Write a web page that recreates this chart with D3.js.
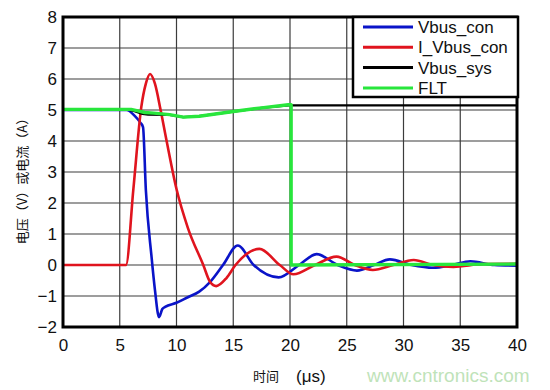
<!DOCTYPE html>
<html>
<head>
  <meta charset="UTF-8">
  <title>Vbus waveform</title>
  <style>
    body { margin: 0; background: #fff; }
    svg { display: block; font-family: Arial, "Liberation Sans", sans-serif; }
  </style>
</head>
<body>
  <svg id="chart" width="550" height="390"></svg>

  <script src="https://cdnjs.cloudflare.com/ajax/libs/d3/7.8.5/d3.min.js"></script>
  <script>

    // values (time in us)
    var xTicks = [0, 5, 10, 15, 20, 25, 30, 35, 40];
    var yTicks = [-2, -1, 0, 1, 2, 3, 4, 5, 6, 7, 8];

    var tVbusCon = [0, 5.6, 6.3, 6.8, 7.05, 7.3, 7.8, 8.1, 8.46, 8.75, 9.0, 10, 11, 12, 12.95, 14.1, 15.4, 16.8, 19.0, 20.8, 22.35, 24.2, 25.9, 27.4, 28.8, 30.7, 32.6, 34.3, 35.9, 38, 40];
    var vVbusCon = [5, 5, 4.82, 4.6, 4.45, 2.42, 0.27, -0.8, -1.68, -1.42, -1.35, -1.22, -1.04, -0.86, -0.55, 0, 0.63, 0, -0.4, 0, 0.35, 0, -0.18, 0, 0.18, 0, -0.09, 0, 0.12, 0, -0.02];

    var tIVbusCon = [0, 5.55, 6.2, 6.9, 7.3, 7.67, 8.1, 8.6, 9.13, 10, 11, 12.36, 12.95, 13.5, 14.4, 15.2, 17.3, 19.1, 20.3, 22.2, 24.1, 25.7, 27.3, 29.1, 30.9, 32.6, 34.4, 37, 40];
    var vIVbusCon = [0, 0, 2.45, 5.1, 5.85, 6.16, 5.85, 5.0, 4.0, 2.45, 1.2, 0, -0.54, -0.68, -0.42, 0, 0.52, 0, -0.3, 0, 0.27, 0, -0.16, 0, 0.16, 0, -0.06, 0.03, 0.04];

    var tVbusSys = [0, 5.8, 6.3, 7.0, 7.5, 9.4, 10.6, 12, 15, 17.5, 19.85, 20.1, 40];
    var vVbusSys = [5, 5, 4.96, 4.87, 4.85, 4.84, 4.77, 4.8, 4.95, 5.07, 5.15, 5.15, 5.15];

    var tFlt = [0, 6.0, 6.5, 7.2, 8, 9.4, 10.6, 12, 15, 17.5, 19.85, 20.1, 20.1, 40];
    var vFlt = [5.02, 5.02, 4.98, 4.92, 4.9, 4.85, 4.77, 4.8, 4.95, 5.07, 5.17, 5.17, 0, 0.03];

    var seriesNames = ["Vbus_con", "I_Vbus_con", "Vbus_sys", "FLT"];
    var seriesColors = ["#0a14c8", "#e0141e", "#000000", "#28e63c"];

    var series = [
      { name: seriesNames[0], t: tVbusCon, v: vVbusCon, curve: d3.curveMonotoneX, w: 2.6 },
      { name: seriesNames[1], t: tIVbusCon, v: vIVbusCon, curve: d3.curveMonotoneX, w: 2.6 },
      { name: seriesNames[2], t: tVbusSys, v: vVbusSys, curve: d3.curveLinear, w: 2.2 },
      { name: seriesNames[3], t: tFlt, v: vFlt, curve: d3.curveLinear, w: 3.4 }
    ];

    var svg = d3.select("#chart");

    var x = d3.scaleLinear().domain([0, 40]).range([63, 517]);
    var y = d3.scaleLinear().domain([-2, 8]).range([327, 17]);

    // grid
    var grid = svg.append("g").attr("stroke", "#3c3c3c").attr("stroke-width", 1.2);
    grid.selectAll(".gx")
      .data(xTicks.slice(1, -1))
      .enter().append("line")
        .attr("x1", function(d) { return x(d); })
        .attr("x2", function(d) { return x(d); })
        .attr("y1", y(8))
        .attr("y2", y(-2));
    grid.selectAll(".gy")
      .data(yTicks.slice(1, -1))
      .enter().append("line")
        .attr("x1", x(0))
        .attr("x2", x(40))
        .attr("y1", function(d) { return y(d); })
        .attr("y2", function(d) { return y(d); });

    // traces
    series.forEach(function(s, i) {
      var pts = s.t.map(function(t, j) { return [t, s.v[j]]; });
      var line = d3.line()
        .x(function(d) { return x(d[0]); })
        .y(function(d) { return y(d[1]); })
        .curve(s.curve);
      svg.append("path")
        .datum(pts)
        .attr("fill", "none")
        .attr("stroke", seriesColors[i])
        .attr("stroke-width", s.w)
        .attr("stroke-linejoin", "round")
        .attr("d", line);
    });

    // frame
    svg.append("rect")
      .attr("x", x(0))
      .attr("y", y(8))
      .attr("width", x(40) - x(0))
      .attr("height", y(-2) - y(8))
      .attr("fill", "none")
      .attr("stroke", "#000")
      .attr("stroke-width", 3);

    // axes (labels only, frame drawn above)
    var yAxis = svg.append("g")
      .attr("transform", "translate(" + x(0) + ",0)")
      .call(d3.axisLeft(y).tickValues(yTicks).tickSize(0).tickPadding(6));
    var xAxis = svg.append("g")
      .attr("transform", "translate(0," + y(-2) + ")")
      .call(d3.axisBottom(x).tickValues(xTicks).tickSize(0).tickPadding(12));
    [xAxis, yAxis].forEach(function(a) {
      a.select(".domain").remove();
      a.selectAll("text")
        .attr("fill", "#111")
        .style("font-size", "17px")
        .style("font-family", "Arial, 'Liberation Sans', sans-serif");
    });

    svg.append("text")
      .attr("transform", "translate(27,178) rotate(-90)")
      .attr("text-anchor", "middle")
      .style("font-size", "13px")
      .style("font-family", "'Noto Sans CJK SC', sans-serif")
      .attr("fill", "#111")
      .text("电压（V）或电流（A）");

    svg.append("text")
      .attr("x", 253)
      .attr("y", 381)
      .style("font-size", "13px")
      .style("font-family", "'Noto Sans CJK SC', sans-serif")
      .attr("fill", "#111")
      .text("时间");
    svg.append("text")
      .attr("x", 296)
      .attr("y", 382)
      .style("font-size", "17px")
      .attr("fill", "#111")
      .text("(μs)");

    svg.append("text")
      .attr("x", 367)
      .attr("y", 382)
      .style("font-size", "19px")
      .attr("fill", "#bfe3b9")
      .text("www.cntronics.com");

    // legend
    var legend = svg.append("g");
    legend.append("rect")
      .attr("x", 353)
      .attr("y", 17)
      .attr("width", 165)
      .attr("height", 80)
      .attr("fill", "#fff")
      .attr("stroke", "#000")
      .attr("stroke-width", 2.5);
    var item = legend.selectAll(".item")
      .data(seriesNames)
      .enter().append("g")
        .attr("class", "item")
        .attr("transform", function(d, i) { return "translate(0," + (27 + i * 20.3) + ")"; });
    item.append("line")
      .attr("x1", 363)
      .attr("x2", 413)
      .attr("stroke", function(d, i) { return seriesColors[i]; })
      .attr("stroke-width", 3);
    item.append("text")
      .attr("x", 418)
      .attr("dy", "0.36em")
      .style("font-size", "17px")
      .attr("fill", "#111")
      .text(function(d) { return d; });

  </script>
</body>
</html>
